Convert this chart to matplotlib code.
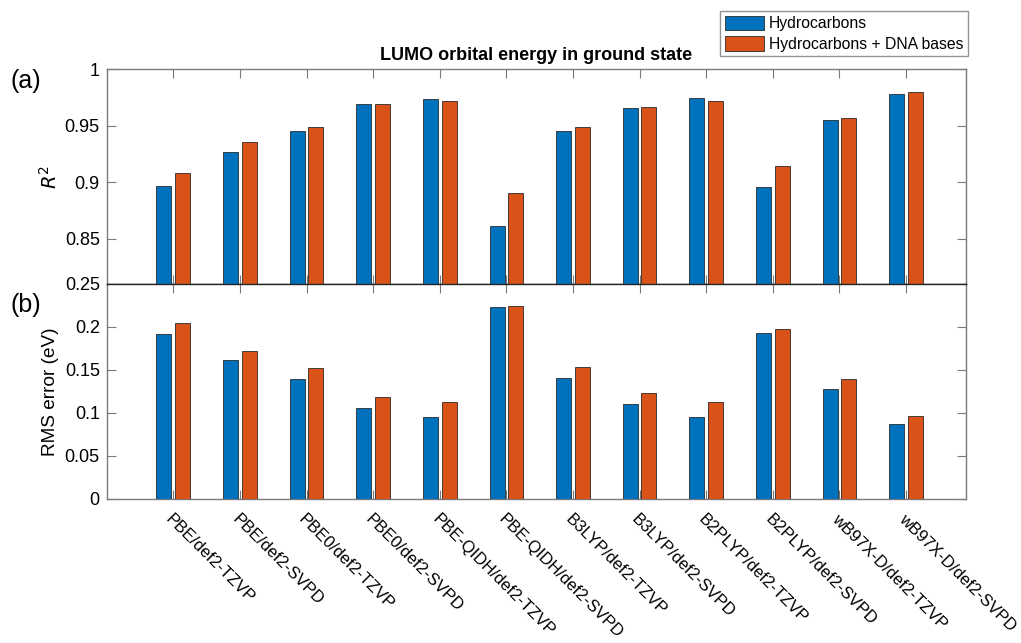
import numpy as np
import matplotlib
matplotlib.use('Agg')
import matplotlib.pyplot as plt

plt.rcParams['font.family'] = ['Liberation Sans', 'DejaVu Sans']

methods = ['PBE/def2-TZVP', 'PBE/def2-SVPD', 'PBE0/def2-TZVP', 'PBE0/def2-SVPD',
           'PBE-QIDH/def2-TZVP', 'PBE-QIDH/def2-SVPD', 'B3LYP/def2-TZVP', 'B3LYP/def2-SVPD',
           'B2PLYP/def2-TZVP', 'B2PLYP/def2-SVPD', 'wB97X-D/def2-TZVP', 'wB97X-D/def2-SVPD']
series = ['Hydrocarbons', 'Hydrocarbons + DNA bases']

# R^2 values
r2_hc = [0.897, 0.927, 0.945, 0.969, 0.974, 0.861, 0.945, 0.966, 0.975, 0.896, 0.955, 0.978]
r2_all = [0.908, 0.936, 0.949, 0.969, 0.972, 0.890, 0.949, 0.967, 0.972, 0.914, 0.957, 0.980]

# RMS errors (eV)
rms_hc = [0.192, 0.162, 0.140, 0.106, 0.095, 0.223, 0.141, 0.110, 0.095, 0.193, 0.128, 0.087]
rms_all = [0.205, 0.172, 0.152, 0.119, 0.113, 0.224, 0.153, 0.123, 0.113, 0.198, 0.139, 0.097]

blue = '#0072BD'
orange = '#D95319'
spine_c = '#7a7a7a'

fig = plt.figure(figsize=(10.21, 6.43), dpi=100)
ax1 = fig.add_axes([0.1045, 0.5588, 0.8416, 0.3334])
ax2 = fig.add_axes([0.1045, 0.2240, 0.8416, 0.3344])

x = np.arange(1, len(methods) + 1)
w = 0.225
off = 0.14

def style(ax):
    for s in ax.spines.values():
        s.set_color(spine_c)
        s.set_linewidth(1.0)
    ax.tick_params(direction='in', length=6.5, width=0.8, color=spine_c,
                   top=True, right=True, labelsize=13, pad=5)
    ax.set_xlim(0, 12.9)
    ax.set_xticks(x)

b1 = ax1.bar(x - off, r2_hc, w, color=blue, edgecolor='#2a2a2a', linewidth=0.6, label=series[0], zorder=3)
b2 = ax1.bar(x + off, r2_all, w, color=orange, edgecolor='#2a2a2a', linewidth=0.6, label=series[1], zorder=3)
style(ax1)
ax1.set_ylim(0.81, 1)
ax1.set_yticks([0.85, 0.9, 0.95, 1])
ax1.set_yticklabels(['0.85', '0.9', '0.95', '1'])
ax1.set_xticklabels([])
ax1.spines['bottom'].set_color('#262626')
ax1.set_ylabel('$R^2$', fontsize=14)
ax1.yaxis.set_label_coords(-0.053, 0.5)
ax1.set_title('LUMO orbital energy in ground state', fontsize=13, fontweight='bold', pad=7)

ax2.bar(x - off, rms_hc, w, color=blue, edgecolor='#2a2a2a', linewidth=0.6, zorder=3)
ax2.bar(x + off, rms_all, w, color=orange, edgecolor='#2a2a2a', linewidth=0.6, zorder=3)
style(ax2)
ax2.set_ylim(0, 0.25)
ax2.set_yticks([0, 0.05, 0.1, 0.15, 0.2, 0.25])
ax2.set_yticklabels(['0', '0.05', '0.1', '0.15', '0.2', '0.25'])
ax2.spines['top'].set_color('#262626')
ax2.set_xticklabels(methods, rotation=-45, ha='left', va='top', rotation_mode='anchor', fontsize=12)
ax2.tick_params(axis='x', pad=9)
ax2.set_ylabel('RMS error (eV)', fontsize=13.7)
ax2.yaxis.set_label_coords(-0.055, 0.5)

fig.text(0.010, 1 - 81 / 643, '(a)', fontsize=18, va='center', ha='left')
fig.text(0.010, 1 - 305 / 643, '(b)', fontsize=18, va='center', ha='left')

leg = fig.legend(handles=[b1, b2], loc='upper right', bbox_to_anchor=(968 / 1021, 1 - 11 / 643),
                 fontsize=11.3, frameon=True, fancybox=False, handlelength=2.5, handleheight=1.05,
                 handletextpad=0.3, labelspacing=0.3, borderpad=0.3, borderaxespad=0)
leg.get_frame().set_edgecolor(spine_c)
leg.get_frame().set_linewidth(1.0)

fig.savefig('out.png', dpi=100)
